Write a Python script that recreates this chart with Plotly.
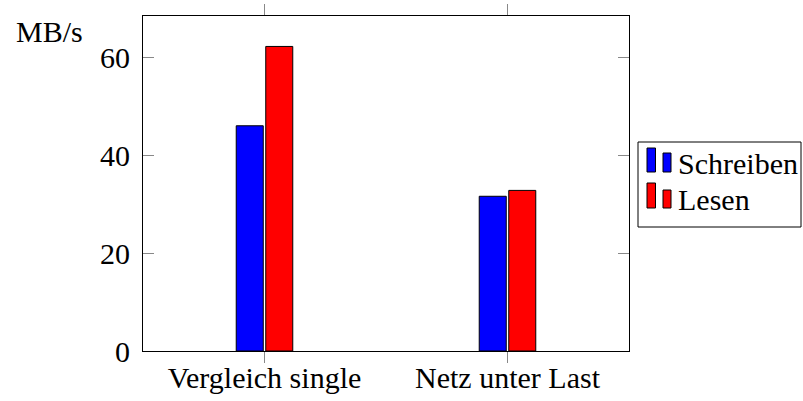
import plotly.graph_objects as go

categories = ["Vergleich single", "Netz unter Last"]
schreiben = [46.0, 31.6]
lesen = [62.2, 32.8]
series_names = ["Schreiben", "Lesen"]
y_ticks = [0, 20, 40, 60]
y_label = "MB/s"

W, H = 803, 401
L, R, T, B = 143, 629, 16, 351
FONT = "Liberation Serif"
FS = 30

def px(x):
    return (x - L) / (R - L)

def py(y):
    return (B - y) / (B - T)

colors = ["#0000ff", "#ff0000"]

fig = go.Figure()
for name, vals, col in zip(series_names, [schreiben, lesen], colors):
    fig.add_trace(go.Bar(x=categories, y=vals, name=name,
                         marker=dict(color=col, line=dict(color="#000000", width=1)),
                         showlegend=False))

ymax = max(max(schreiben), max(lesen)) * 1.1

fig.update_layout(
    width=W, height=H,
    margin=dict(l=L, r=W - R, t=T, b=H - B, pad=0, autoexpand=False),
    paper_bgcolor="white", plot_bgcolor="white",
    barmode="group", bargap=0.757, bargroupgap=0.085,
    font=dict(family=FONT, size=FS, color="black"),
    xaxis=dict(range=[-0.5, 1.5], showgrid=False, zeroline=False, automargin=False,
               showline=True, linecolor="black", linewidth=1, mirror="allticks",
               ticks="outside", ticklen=11, tickcolor="#888888", tickwidth=1,
               ticklabelstandoff=-11,
               tickfont=dict(family=FONT, size=FS)),
    yaxis=dict(range=[0, ymax], tickvals=y_ticks, showgrid=False, zeroline=False, automargin=False,
               showline=True, linecolor="black", linewidth=1, mirror="allticks",
               ticks="inside", ticklen=11, tickcolor="#888888", tickwidth=1,
               ticklabelstandoff=6,
               tickfont=dict(family=FONT, size=FS)),
)

# y label
fig.add_annotation(text=y_label, xref="paper", yref="paper",
                   x=px(49.5), y=py(31), xanchor="center", yanchor="middle",
                   showarrow=False, font=dict(family=FONT, size=FS))

# manual legend box
shapes = [dict(type="rect", xref="paper", yref="paper",
               x0=px(638), x1=px(801), y0=py(142), y1=py(227),
               line=dict(color="black", width=1), fillcolor="white", layer="above")]
rows = [(148, 153, 172, 163), (183, 190, 208, 199)]
for (t1, t2, bot, cy), name, col in zip(rows, series_names, colors):
    shapes.append(dict(type="rect", xref="paper", yref="paper",
                       x0=px(647), x1=px(655.5), y0=py(bot), y1=py(t1),
                       line=dict(color="black", width=1), fillcolor=col, layer="above"))
    shapes.append(dict(type="rect", xref="paper", yref="paper",
                       x0=px(663), x1=px(671), y0=py(bot), y1=py(t2),
                       line=dict(color="black", width=1), fillcolor=col, layer="above"))
    fig.add_annotation(text=name, xref="paper", yref="paper",
                       x=px(676), y=py(cy), xanchor="left", yanchor="middle",
                       showarrow=False, font=dict(family=FONT, size=FS))
fig.update_layout(shapes=shapes)

fig.write_html("out.html")
